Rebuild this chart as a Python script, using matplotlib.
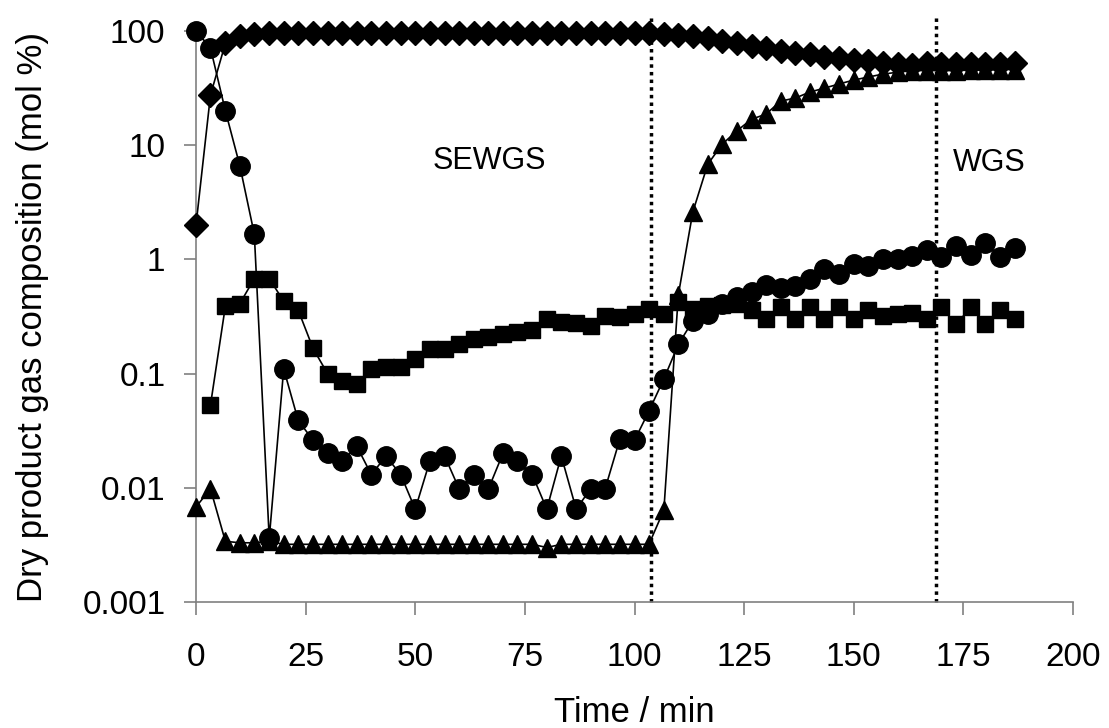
import numpy as np
import matplotlib
matplotlib.use("Agg")
import matplotlib.pyplot as plt
from matplotlib.ticker import FixedLocator, FixedFormatter

plt.rcParams['font.family'] = ['Liberation Sans', 'DejaVu Sans']

# time axis (min), one sample every ~3.3 min
time_min = [0, 3.3, 6.7, 10, 13.3, 16.7, 20, 23.3, 26.7, 30,
            33.3, 36.7, 40, 43.3, 46.7, 50, 53.3, 56.7, 60, 63.3,
            66.7, 70, 73.3, 76.7, 80, 83.3, 86.7, 90, 93.3, 96.7,
            100, 103.3, 106.7, 110, 113.3, 116.7, 120, 123.3, 126.7, 130,
            133.3, 136.7, 140, 143.3, 146.7, 150, 153.3, 156.7, 160, 163.3,
            166.7, 170, 173.3, 176.7, 180, 183.3, 186.7]

# diamonds
diamonds = [2.0, 27.5, 78, 91, 95, 96, 96, 96, 96, 96,
            96, 96, 96, 96, 96, 96, 96, 96, 96, 96,
            96, 96, 96, 96, 96, 96, 96, 96, 96, 96,
            96, 96, 95, 93, 90, 87, 82, 79, 74, 71,
            67, 64, 63, 59, 58, 56, 55, 52, 51, 50,
            52, 51, 51, 51, 51, 51, 52]

# squares
squares = [np.nan, 0.053, 0.39, 0.41, 0.68, 0.68, 0.43, 0.36, 0.166, 0.10,
           0.087, 0.081, 0.11, 0.115, 0.115, 0.135, 0.163, 0.163, 0.18, 0.20,
           0.21, 0.22, 0.23, 0.24, 0.30, 0.285, 0.275, 0.26, 0.32, 0.31,
           0.33, 0.37, 0.33, 0.42, 0.37, 0.39, 0.40, 0.41, 0.36, 0.30,
           0.38, 0.30, 0.38, 0.30, 0.38, 0.30, 0.36, 0.32, 0.33, 0.34,
           0.30, 0.38, 0.27, 0.38, 0.27, 0.36, 0.30]

# triangles
triangles = [0.0068, 0.0098, 0.0034, 0.0033, 0.0033, 0.0034, 0.0032, 0.0032, 0.0032, 0.0032,
             0.0032, 0.0032, 0.0032, 0.0032, 0.0032, 0.0032, 0.0032, 0.0032, 0.0032, 0.0032,
             0.0032, 0.0032, 0.0032, 0.0032, 0.0030, 0.0032, 0.0032, 0.0032, 0.0032, 0.0032,
             0.0032, 0.0032, 0.0064, 0.49, 2.6, 6.8, 10.2, 13.3, 16.9, 18.7,
             24.3, 25.9, 29.2, 31.6, 34.4, 37.2, 39.5, 42, 43.5, 45,
             45, 45, 45, 45.5, 45.5, 46, 46]

# circles
circles = [100, 71, 20, 6.6, 1.66, 0.0036, 0.11, 0.039, 0.026, 0.020,
           0.017, 0.023, 0.013, 0.019, 0.013, 0.0065, 0.017, 0.019, 0.0098, 0.013,
           0.0098, 0.020, 0.017, 0.013, 0.0065, 0.019, 0.0065, 0.0098, 0.0098, 0.027,
           0.026, 0.047, 0.09, 0.18, 0.29, 0.33, 0.41, 0.47, 0.52, 0.60,
           0.56, 0.58, 0.67, 0.82, 0.74, 0.92, 0.87, 1.0, 1.0, 1.08,
           1.22, 1.06, 1.30, 1.1, 1.38, 1.06, 1.27]

phase_bounds = [103.8, 168.7]
y_ticks = [0.001, 0.01, 0.1, 1, 10, 100]
y_tick_labels = ['0.001', '0.01', '0.1', '1', '10', '100']
x_ticks = [0, 25, 50, 75, 100, 125, 150, 175, 200]

fig = plt.figure(figsize=(11.09, 7.28), dpi=100)
ax = fig.add_axes([196/1109, 1 - 602/728, 877/1109, 571/728])

lw = 1.2
ax.plot(time_min, diamonds, color='black', lw=lw, marker='D', ms=12, zorder=3, clip_on=False)
ax.plot(time_min, squares, color='black', lw=lw, marker='s', ms=11.5, zorder=4, clip_on=False)
ax.plot(time_min, triangles, color='black', lw=lw, marker='^', ms=13, zorder=5, clip_on=False)
ax.plot(time_min, circles, color='black', lw=lw, marker='o', ms=14, zorder=6, clip_on=False)

ax.vlines(phase_bounds, 0.001, 135, colors='black', linestyles=(0, (1, 1.2)),
          lw=2.5, clip_on=False, zorder=2)

ax.set_yscale('log')
ax.set_xlim(0, 200)
ax.set_ylim(0.001, 100)
ax.yaxis.set_major_locator(FixedLocator(y_ticks))
ax.yaxis.set_major_formatter(FixedFormatter(y_tick_labels))
ax.yaxis.set_minor_locator(FixedLocator([]))
ax.set_xticks(x_ticks)

for s in ['top', 'right']:
    ax.spines[s].set_visible(False)
for s in ['left', 'bottom']:
    ax.spines[s].set_color('#808080')
    ax.spines[s].set_linewidth(1.2)

ax.tick_params(axis='both', direction='out', length=9, width=1.2, color='#808080',
               labelsize=24)
ax.tick_params(axis='x', pad=20)
ax.tick_params(axis='y', pad=13)

ax.set_xlabel('Time / min', fontsize=25, va='center')
ax.xaxis.set_label_coords(0.5, (602 - 713) / 571)
ax.set_ylabel('Dry product gas composition (mol %)', fontsize=25, va='center')
ax.yaxis.set_label_coords((33 - 196) / 877, 0.5)

ax.text(67, 7.2, 'SEWGS', fontsize=22, ha='center', va='center')
ax.text(181, 7.0, 'WGS', fontsize=22, ha='center', va='center')

fig.savefig('out.png', dpi=100, facecolor='white')
